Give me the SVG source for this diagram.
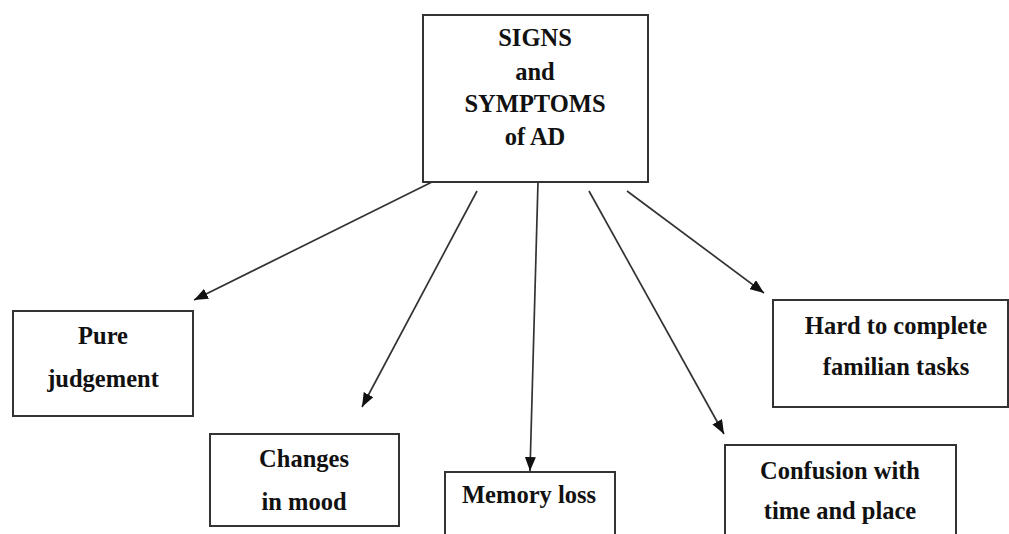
<svg xmlns="http://www.w3.org/2000/svg" width="1009" height="534" viewBox="0 0 1009 534">
<style>
.box{fill:#fff;stroke:#333;stroke-width:2}
.t{font-family:"Liberation Serif","Times New Roman",serif;font-weight:bold;font-size:24.5px;fill:#111;text-anchor:middle}
.c{stroke:#333;stroke-width:1.7;fill:none;marker-end:url(#ah)}
</style>
<defs>
<marker id="ah" viewBox="0 0 14 11" refX="14" refY="5.5" markerWidth="14" markerHeight="11" markerUnits="userSpaceOnUse" orient="auto">
<path d="M0,0 L14,5.5 L0,11 z" fill="#111"/>
</marker>
</defs>
<rect width="1009" height="534" fill="#fff"/>
<g id="connectors">
<line class="c" x1="432" y1="182" x2="194" y2="300"/>
<line class="c" x1="477" y1="191" x2="362" y2="407"/>
<line class="c" x1="538" y1="182" x2="530" y2="471"/>
<line class="c" x1="589" y1="191" x2="724" y2="434"/>
<line class="c" x1="627" y1="191" x2="764" y2="293"/>
</g>
<g id="root">
<rect class="box" x="423" y="15" width="225" height="167"/>
<text class="t" x="535" y="46">SIGNS</text>
<text class="t" x="535" y="80">and</text>
<text class="t" x="535" y="112">SYMPTOMS</text>
<text class="t" x="535" y="145">of AD</text>
</g>
<g id="pure">
<rect class="box" x="13" y="311" width="180" height="105"/>
<text class="t" x="103" y="344">Pure</text>
<text class="t" x="103" y="387">judgement</text>
</g>
<g id="changes">
<rect class="box" x="210" y="434" width="189" height="92"/>
<text class="t" x="304" y="467">Changes</text>
<text class="t" x="304" y="510">in mood</text>
</g>
<g id="memory">
<rect class="box" x="445" y="472" width="170" height="70"/>
<text class="t" x="529" y="503">Memory loss</text>
</g>
<g id="confusion">
<rect class="box" x="725" y="445" width="231" height="100"/>
<text class="t" x="840" y="479">Confusion with</text>
<text class="t" x="840" y="519">time and place</text>
</g>
<g id="hard">
<rect class="box" x="773" y="300" width="235" height="107"/>
<text class="t" x="896" y="334">Hard to complete</text>
<text class="t" x="896" y="375">familian tasks</text>
</g>
</svg>
